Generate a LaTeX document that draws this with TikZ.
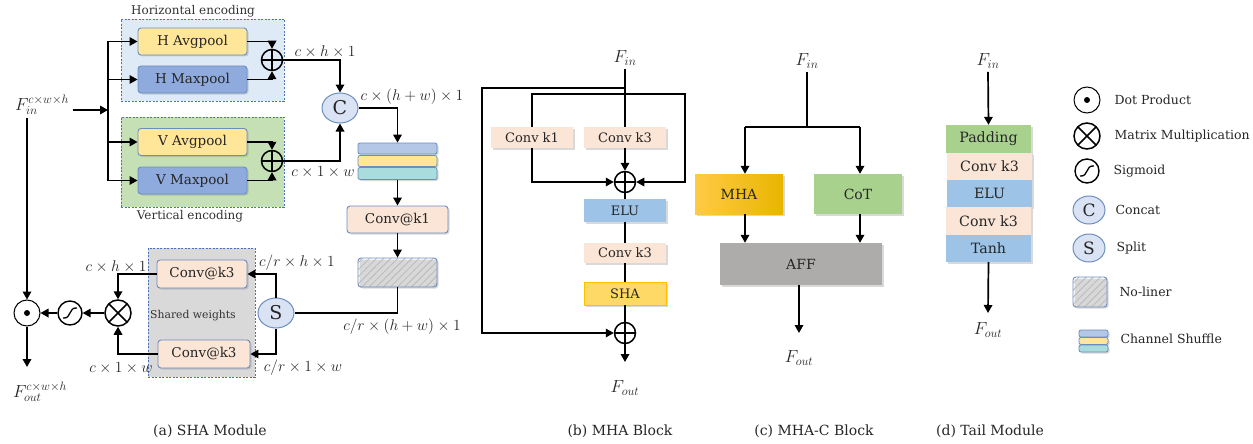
\RequirePackage{fix-cm}
\documentclass[tikz,border=0pt]{standalone}
\usepackage{fontspec}
\setmainfont{DejaVu Serif}
\usetikzlibrary{arrows.meta,shadows,patterns.meta,calc,shapes.geometric}
\newcommand{\myfs}[1]{\fontsize{#1}{#1}\selectfont}
\definecolor{hbg}{HTML}{DEEBF7}
\definecolor{vbg}{HTML}{C5E0B4}
\definecolor{gbg}{HTML}{D9D9D9}
\definecolor{regc}{HTML}{4A72B8}
\definecolor{bordc}{HTML}{6C8EBF}
\definecolor{yel}{HTML}{FFE699}
\definecolor{blu}{HTML}{8FAADC}
\definecolor{peach}{HTML}{FBE5D6}
\definecolor{opc}{HTML}{DAE3F3}
\definecolor{shb}{HTML}{B4C7E7}
\definecolor{shc}{HTML}{A9DCDC}
\definecolor{elub}{HTML}{9DC3E6}
\definecolor{shay}{HTML}{FFD966}
\definecolor{shab}{HTML}{FFC000}
\definecolor{cotg}{HTML}{A9D18E}
\definecolor{affg}{HTML}{AEABAB}
\definecolor{mhal}{HTML}{FFCB45}
\definecolor{mhar}{HTML}{E9B500}
\definecolor{txt}{HTML}{262626}
\tikzset{
  ln/.style={line width=1.7pt},
  arr/.style={line width=1.7pt,-{Triangle[length=8pt,width=8.5pt]}},
  region/.style={draw=regc,dash pattern=on 2pt off 1.5pt,line width=0.7pt,inner sep=0pt},
  shd/.style={drop shadow={opacity=0.3,shadow xshift=1.5pt,shadow yshift=-1.5pt}},
  rbox/.style={draw=bordc,line width=0.9pt,rounded corners=3pt,inner sep=0pt,font=\myfs{13.5},text=txt,shd},
  fbox/.style={inner sep=0pt,font=\myfs{13},text=txt,shd},
  opl/.style={circle,draw,line width=1.5pt,minimum size=21pt,inner sep=0pt,
    path picture={\draw[line width=1.5pt] (path picture bounding box.north) -- (path picture bounding box.south)
      (path picture bounding box.east) -- (path picture bounding box.west);}},
  otm/.style={circle,draw,line width=1.5pt,minimum size=26pt,inner sep=0pt,
    path picture={\draw[line width=1.5pt] (path picture bounding box.north west) -- (path picture bounding box.south east)
      (path picture bounding box.north east) -- (path picture bounding box.south west);}},
  dotc/.style={circle,draw,line width=1pt,minimum size=26pt,inner sep=0pt,
    path picture={\fill (path picture bounding box.center) circle (3pt);}},
  sigc/.style={circle,draw,line width=1.4pt,minimum size=24pt,inner sep=0pt,
    path picture={\draw[line width=1.3pt] ([shift={(-7pt,-5pt)}]path picture bounding box.center)
      .. controls ([shift={(2pt,-6pt)}]path picture bounding box.center) and ([shift={(-2pt,6pt)}]path picture bounding box.center)
      .. ([shift={(7pt,5pt)}]path picture bounding box.center);}},
  cse/.style={ellipse,draw=bordc,fill=opc,line width=1pt,inner sep=0pt,minimum width=36pt,minimum height=30pt,font=\myfs{19},text=txt},
  hatch/.style={draw=bordc,line width=0.9pt,rounded corners=3pt,inner sep=0pt,preaction={fill=white},
    pattern={Lines[angle=45,distance=5pt,line width=0.8pt]},pattern color=gray!55,shd},
  shl/.style={draw=bordc,line width=0.8pt,rounded corners=2pt,inner sep=0pt,shd},
  lbl/.style={font=\myfs{15.5},text=txt},
  lgt/.style={font=\myfs{12.5},anchor=west,text=txt},
  capt/.style={font=\myfs{14},text=txt},
  fl/.style={font=\myfs{17.5},text=txt}
}
\begin{document}
\begin{tikzpicture}[x=1pt,y=-1pt]
\useasboundingbox (0,0) rectangle (1253,444);

% ---------- (a) SHA Module ----------
\node[region,fill=hbg,minimum width=163pt,minimum height=82pt] (hreg) at (202.5,60) {};
\node[region,fill=vbg,minimum width=163pt,minimum height=90pt] (vreg) at (202.5,162) {};
\node[region,fill=gbg,minimum width=107pt,minimum height=129pt] (greg) at (201.5,312.5) {};
\node[font=\myfs{12},text=black!80] (htit) at (193,11) {Horizontal encoding};
\node[font=\myfs{12},text=black!80] (vtit) at (190,216) {Vertical encoding};
\node[font=\myfs{10.8},text=black!80] (sw) at (193,316) {Shared weights};

\node[rbox,fill=yel,minimum width=109pt,minimum height=27pt] (hav) at (192.5,41.5) {H Avgpool};
\node[rbox,fill=blu,minimum width=109pt,minimum height=27pt] (hmx) at (192.5,79.5) {H Maxpool};
\node[rbox,fill=yel,minimum width=109pt,minimum height=27pt] (vav) at (192.5,142) {V Avgpool};
\node[rbox,fill=blu,minimum width=109pt,minimum height=27pt] (vmx) at (192.5,180.5) {V Maxpool};
\node[opl] (ph) at (272,60) {};
\node[opl] (pv) at (272,161) {};
\node[cse] (cc) at (340,108) {C};

\node[shl,fill=shb,minimum width=79pt,minimum height=11pt] (csh1) at (397.5,148.5) {};
\node[shl,fill=yel,minimum width=79pt,minimum height=11pt] (csh2) at (397.5,161) {};
\node[shl,fill=shc,minimum width=79pt,minimum height=12pt] (csh3) at (397.5,173.5) {};
\node[rbox,fill=peach,minimum width=101pt,minimum height=27pt] (conv1) at (397.5,219.5) {Conv@k1};
\node[hatch,minimum width=79pt,minimum height=29pt] (hat) at (397.5,272.5) {};
\node[cse] (ss) at (276,313) {S};
\node[rbox,fill=peach,minimum width=90pt,minimum height=28pt] (ck3a) at (202,274) {Conv@k3};
\node[rbox,fill=peach,minimum width=92pt,minimum height=28pt] (ck3b) at (204,354) {Conv@k3};
\node[otm] (ot) at (118,313) {};
\node[sigc] (sg) at (70,313) {};
\node[dotc] (dt) at (27,313) {};

\node[fl] (fin) at (42,105) {$F_{in}^{c\times w\times h}$};
\node[fl] (fout) at (40,392) {$F_{out}^{c\times w\times h}$};
\coordinate (br) at (108,110);
\coordinate (dend) at (27,367);

\draw[arr] (fin.east |- br) -- (br);
\draw[ln] (br |- hav) -- (br |- vmx);
\draw[arr] (br |- hav) -- (hav.west);
\draw[arr] (br |- hmx) -- (hmx.west);
\draw[arr] (br |- vav) -- (vav.west);
\draw[arr] (br |- vmx) -- (vmx.west);
\draw[arr] (hav.east) -| (ph.north);
\draw[arr] (hmx.east) -| (ph.south);
\draw[arr] (vav.east) -| (pv.north);
\draw[arr] (vmx.east) -| (pv.south);
\draw[arr] (ph.east) -| (cc.north);
\draw[arr] (pv.east) -| (cc.south);
\draw[arr] (cc.east) -| (csh1.north);
\draw[arr] (csh3.south) -- (conv1.north);
\draw[arr] (conv1.south) -- (hat.north);
\draw[ln] (hat.south) |- (ss.east);
\draw[arr] (ss.north) |- (ck3a.east);
\draw[arr] (ss.south) |- (ck3b.east);
\draw[arr] (ck3a.west) -| (ot.north);
\draw[arr] (ck3b.west) -| (ot.south);
\draw[arr] (ot.west) -- (sg.east);
\draw[arr] (sg.west) -- (dt.east);
\draw[arr] (fin.south -| dt) -- (dt.north);
\draw[arr] (dt.south) -- (dend);

\node[lbl] (l1) at (325,52) {$c\times h\times 1$};
\node[lbl] (l2) at (412,97) {$c\times (h+w)\times 1$};
\node[lbl] (l3) at (323,172) {$c\times 1\times w$};
\node[lbl] (l4) at (297,263) {$c/r\times h\times 1$};
\node[lbl] (l5) at (402,327) {$c/r\times (h+w)\times 1$};
\node[lbl] (l6) at (303,368) {$c/r\times 1\times w$};
\node[lbl] (l7) at (116,267) {$c\times h\times 1$};
\node[lbl] (l8) at (121,368) {$c\times 1\times w$};

% ---------- (b) MHA Block ----------
\node[fl] (finB) at (625,58) {$F_{in}$};
\node[fbox,fill=peach,minimum width=82pt,minimum height=21pt] (ck1B) at (532,137.5) {Conv k1};
\node[fbox,fill=peach,minimum width=82pt,minimum height=21pt] (ck3B) at (625,137.5) {Conv k3};
\node[opl] (pB1) at (625,182) {};
\node[fbox,fill=elub,minimum width=82pt,minimum height=23pt] (eluB) at (625,210.5) {ELU};
\node[fbox,fill=peach,minimum width=82pt,minimum height=20pt] (ck3B2) at (625,253) {Conv k3};
\node[fbox,fill=shay,draw=shab,line width=0.9pt,minimum width=82pt,minimum height=23pt] (shaB) at (625,293.5) {SHA};
\node[opl] (pB2) at (625,333) {};
\node[fl] (foutB) at (625,388) {$F_{out}$};
\coordinate (oB) at (625,88);
\coordinate (oL) at (482,88);
\coordinate (iR) at (685,94);
\coordinate (eB) at (625,362);
\draw[ln] (finB.south) -- (ck3B.north);
\draw[arr] (oB) -- (oL) |- (pB2.west);
\draw[arr] (ck1B.north) |- (iR) |- (pB1.east);
\draw[arr] (ck1B.south) |- (pB1.west);
\draw[arr] (ck3B.south) -- (pB1.north);
\draw[ln] (pB1.south) -- (eluB.north);
\draw[ln] (eluB.south) -- (ck3B2.north);
\draw[ln] (ck3B2.south) -- (shaB.north);
\draw[ln] (shaB.south) -- (pB2.north);
\draw[arr] (pB2.south) -- (eB);

% ---------- (c) MHA-C Block ----------
\node[fl] (finC) at (807,61) {$F_{in}$};
\node[fbox,left color=mhal,right color=mhar,minimum width=88pt,minimum height=40pt,font=\myfs{14}] (mhaC) at (739,194) {MHA};
\node[fbox,fill=cotg,minimum width=88pt,minimum height=40pt,font=\myfs{14}] (cotC) at (858,194) {CoT};
\node[fbox,fill=affg,minimum width=162pt,minimum height=42pt,font=\myfs{14}] (affC) at (801,264) {AFF};
\node[fl] (foutC) at (799,358) {$F_{out}$};
\coordinate (jC) at (807,127);
\coordinate (lC) at (745,127);
\coordinate (rC) at (860,127);
\coordinate (eC) at (799,333);
\draw[ln] (finC.south) -- (jC);
\draw[ln] (lC) -- (rC);
\draw[arr] (lC) -- (lC |- mhaC.north);
\draw[arr] (rC) -- (rC |- cotC.north);
\draw[arr] (lC |- mhaC.south) -- (lC |- affC.north);
\draw[arr] (rC |- cotC.south) -- (rC |- affC.north);
\draw[arr] (eC |- affC.south) -- (eC);

% ---------- (d) Tail Module ----------
\node[fl] (finD) at (988,61) {$F_{in}$};
\node[fbox,fill=cotg,minimum width=85pt,minimum height=28pt,font=\myfs{14.2}] (padD) at (988.5,139) {Padding};
\node[fbox,fill=peach,minimum width=85pt,minimum height=27pt,font=\myfs{14.2}] (convD1) at (989.5,166.5) {Conv k3};
\node[fbox,fill=elub,minimum width=85pt,minimum height=27pt,font=\myfs{14.2}] (eluD) at (989.5,193.5) {ELU};
\node[fbox,fill=peach,minimum width=85pt,minimum height=28pt,font=\myfs{14.2}] (convD2) at (988.5,221) {Conv k3};
\node[fbox,fill=elub,minimum width=85pt,minimum height=27pt,font=\myfs{14.2}] (tanhD) at (988.5,248.5) {Tanh};
\node[fl] (foutD) at (988,330) {$F_{out}$};
\coordinate (eD) at (988,313);
\draw[arr] (finD.south) -- (padD.north);
\draw[arr] (tanhD.south) -- (eD);

% ---------- Legend ----------
\node[dotc] (gdt) at (1087,100) {};
\node[otm] (got) at (1087,136) {};
\node[sigc] (gsg) at (1087,171) {};
\node[cse,minimum width=32pt,minimum height=28pt,font=\myfs{17}] (gcc) at (1089,210) {C};
\node[cse,minimum width=32pt,minimum height=28pt,font=\myfs{17}] (gss) at (1089,248) {S};
\node[hatch,minimum width=34pt,minimum height=30pt] (ghat) at (1090,292) {};
\node[shl,fill=shb,minimum width=29pt,minimum height=7pt] (gcs1) at (1093.5,333.5) {};
\node[shl,fill=yel,minimum width=29pt,minimum height=7pt] (gcs2) at (1093.5,341) {};
\node[shl,fill=shc,minimum width=29pt,minimum height=7pt] (gcs3) at (1093.5,348.5) {};
\node[lgt] (tdt) at (1111,100) {Dot Product};
\node[lgt] (tot) at (1111,136) {Matrix Multiplication};
\node[lgt] (tsg) at (1110,171) {Sigmoid};
\node[lgt] (tcc) at (1112,210) {Concat};
\node[lgt] (tss) at (1113,248) {Split};
\node[lgt] (that) at (1116,292) {No-liner};
\node[lgt] (tcs) at (1117,339) {Channel Shuffle};

% ---------- Captions ----------
\node[capt] (capa) at (210,431) {(a) SHA Module};
\node[capt] (capb) at (620,431) {(b) MHA Block};
\node[capt] (capc) at (814,431) {(c) MHA-C Block};
\node[capt] (capd) at (990,431) {(d) Tail Module};
\end{tikzpicture}
\end{document}
